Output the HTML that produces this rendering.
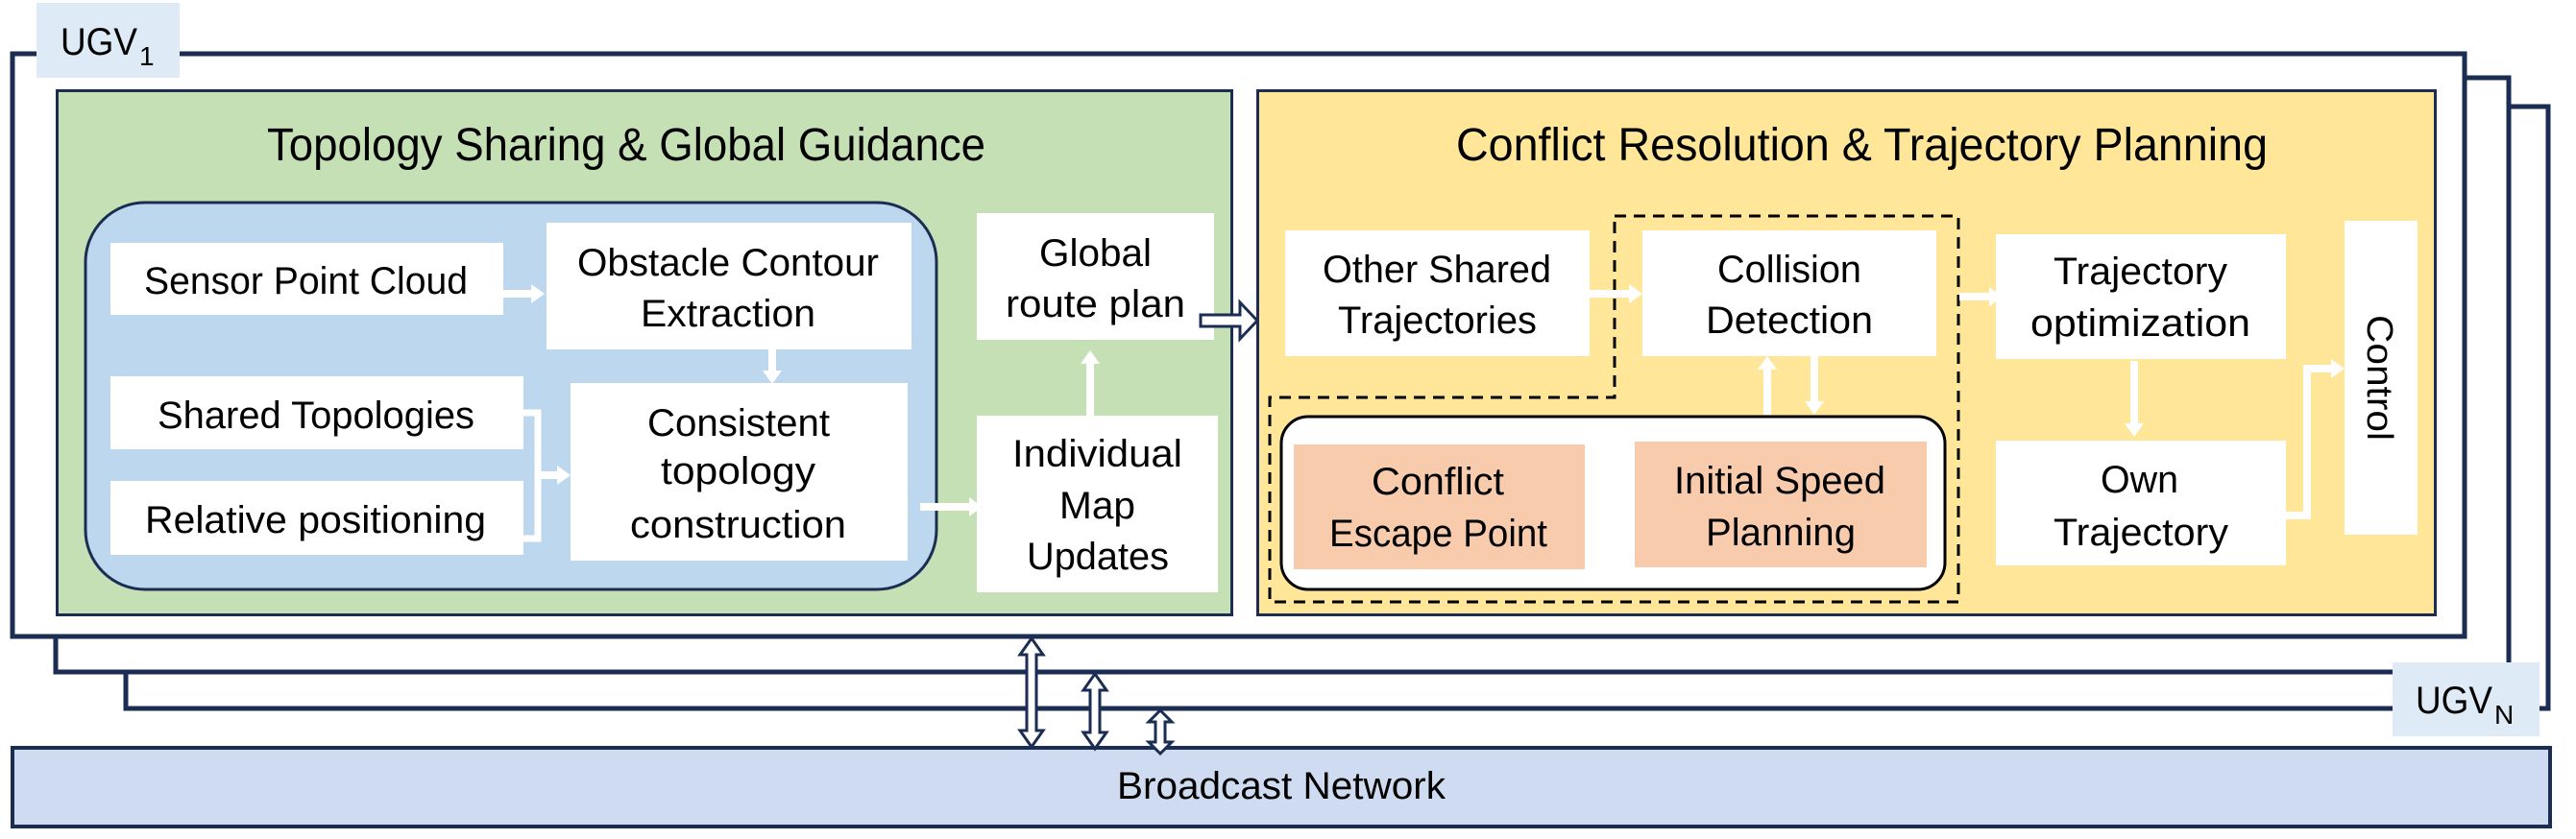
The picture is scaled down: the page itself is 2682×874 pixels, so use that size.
<!DOCTYPE html>
<html><head><meta charset="utf-8"><style>
html,body{margin:0;padding:0;background:#fff;}
svg{display:block;}
text{font-family:"Liberation Sans",sans-serif;fill:#000;}
.b{font-size:40px;}
.t{font-size:48px;}
</style></head><body>
<svg width="2682" height="874" viewBox="0 0 2682 874" xmlns="http://www.w3.org/2000/svg">
<g stroke="#1b2d52" stroke-width="5" fill="#fff">
<rect x="131" y="111" width="2522" height="627"/>
<rect x="58" y="81" width="2554" height="619"/>
<rect x="13" y="56" width="2553" height="607"/>
</g>
<rect x="38" y="3" width="149" height="78" fill="#deeaf6"/>
<text x="63" y="57" style="font-size:40px" textLength="80" lengthAdjust="spacingAndGlyphs">UGV</text><text x="145" y="68" style="font-size:28px">1</text>
<rect x="2491" y="690" width="153" height="77" fill="#deeaf6"/>
<text x="2515" y="743" style="font-size:40px" textLength="80" lengthAdjust="spacingAndGlyphs">UGV</text><text x="2597" y="754" style="font-size:28px">N</text>

<!-- green -->
<rect x="59.5" y="94.5" width="1223" height="546" fill="#c5e0b4" stroke="#1b2d52" stroke-width="3"/>
<text class="t" x="278" y="167" textLength="748" lengthAdjust="spacingAndGlyphs">Topology Sharing &amp; Global Guidance</text>
<rect x="89" y="211" width="886" height="403" rx="62" fill="#bdd7ee" stroke="#1b2d52" stroke-width="3"/>
<g fill="#fff">
<rect x="115" y="253" width="409" height="75"/>
<rect x="569" y="232" width="380" height="132"/>
<rect x="115" y="392" width="430" height="76"/>
<rect x="115" y="501" width="430" height="77"/>
<rect x="594" y="399" width="351" height="185"/>
<rect x="1017" y="222" width="247" height="132"/>
<rect x="1017" y="433" width="251" height="184"/>
</g>
<text class="b" x="150" y="306" textLength="337" lengthAdjust="spacingAndGlyphs">Sensor Point Cloud</text>
<text class="b" x="601" y="287" textLength="314" lengthAdjust="spacingAndGlyphs">Obstacle Contour</text>
<text class="b" x="667" y="340" textLength="182" lengthAdjust="spacingAndGlyphs">Extraction</text>
<text class="b" x="164" y="446" textLength="330" lengthAdjust="spacingAndGlyphs">Shared Topologies</text>
<text class="b" x="151" y="555" textLength="355" lengthAdjust="spacingAndGlyphs">Relative positioning</text>
<text class="b" x="674" y="454" textLength="190" lengthAdjust="spacingAndGlyphs">Consistent</text>
<text class="b" x="688" y="504" textLength="161" lengthAdjust="spacingAndGlyphs">topology</text>
<text class="b" x="656" y="560" textLength="225" lengthAdjust="spacingAndGlyphs">construction</text>
<text class="b" x="1082" y="277" textLength="117" lengthAdjust="spacingAndGlyphs">Global</text>
<text class="b" x="1047" y="330" textLength="187" lengthAdjust="spacingAndGlyphs">route plan</text>
<text class="b" x="1054" y="486" textLength="177" lengthAdjust="spacingAndGlyphs">Individual</text>
<text class="b" x="1103" y="540" textLength="79" lengthAdjust="spacingAndGlyphs">Map</text>
<text class="b" x="1069" y="593" textLength="148" lengthAdjust="spacingAndGlyphs">Updates</text>

<!-- yellow -->
<rect x="1309.5" y="94.5" width="1226" height="546" fill="#ffe699" stroke="#1b2d52" stroke-width="3"/>
<text class="t" x="1516" y="167" textLength="845" lengthAdjust="spacingAndGlyphs">Conflict Resolution &amp; Trajectory Planning</text>
<rect x="1334" y="434" width="691" height="180" rx="28" fill="#fff" stroke="#000" stroke-width="3"/>
<path d="M1681,225 L2039,225 L2039,627 L1322,627 L1322,414 L1681,414 Z" fill="none" stroke="#000" stroke-width="3" stroke-dasharray="12 8"/>
<g fill="#fff">
<rect x="1338" y="240" width="317" height="131"/>
<rect x="1710" y="240" width="306" height="131"/>
<rect x="2078" y="244" width="302" height="130"/>
<rect x="2078" y="459" width="302" height="130"/>
<rect x="2441" y="230" width="76" height="327"/>
</g>
<g fill="#f8cbad">
<rect x="1347" y="463" width="303" height="130"/>
<rect x="1702" y="460" width="304" height="131"/>
</g>
<text class="b" x="1377" y="294" textLength="238" lengthAdjust="spacingAndGlyphs">Other Shared</text>
<text class="b" x="1393" y="347" textLength="207" lengthAdjust="spacingAndGlyphs">Trajectories</text>
<text class="b" x="1788" y="294" textLength="150" lengthAdjust="spacingAndGlyphs">Collision</text>
<text class="b" x="1776" y="347" textLength="174" lengthAdjust="spacingAndGlyphs">Detection</text>
<text class="b" x="2138" y="296" textLength="181" lengthAdjust="spacingAndGlyphs">Trajectory</text>
<text class="b" x="2114" y="350" textLength="229" lengthAdjust="spacingAndGlyphs">optimization</text>
<text class="b" x="2187" y="513" textLength="81" lengthAdjust="spacingAndGlyphs">Own</text>
<text class="b" x="2138" y="568" textLength="182" lengthAdjust="spacingAndGlyphs">Trajectory</text>
<text class="b" x="1428" y="515" textLength="138" lengthAdjust="spacingAndGlyphs">Conflict</text>
<text class="b" x="1384" y="569" textLength="227" lengthAdjust="spacingAndGlyphs">Escape Point</text>
<text class="b" x="1743" y="514" textLength="220" lengthAdjust="spacingAndGlyphs">Initial Speed</text>
<text class="b" x="1776" y="568" textLength="156" lengthAdjust="spacingAndGlyphs">Planning</text>
<text x="0" y="0" style="font-size:38px" transform="translate(2465,328) rotate(90)" textLength="131" lengthAdjust="spacingAndGlyphs">Control</text>

<!-- white arrows -->
<g fill="#fff">
<polygon points="524,302 553,302 553,296 567,306 553,316 553,310 524,310"/>
<polygon points="800,364 800,386 794,386 804,400 814,386 808,386 808,364"/>
<polygon points="560,491 580,491 580,485 594,495 580,505 580,499 560,499"/>
<polygon points="958,524 1009,524 1009,518 1023,528 1009,538 1009,532 958,532"/>
<polygon points="1131,433 1131,379 1125,379 1135,365 1145,379 1139,379 1139,433"/>
<polygon points="1655,302 1696,302 1696,296 1710,306 1696,316 1696,310 1655,310"/>
<polygon points="2040,305 2071,305 2071,299 2085,309 2071,319 2071,313 2040,313"/>
<polygon points="1836,432 1836,385 1830,385 1840,371 1850,385 1844,385 1844,432"/>
<polygon points="1885,371 1885,418 1879,418 1889,432 1899,418 1893,418 1893,371"/>
<polygon points="1652,524 1688,524 1688,518 1702,528 1688,538 1688,532 1652,532"/>
<polygon points="2218,376 2218,441 2212,441 2222,455 2232,441 2226,441 2226,376"/>
<polygon points="2398,380 2427,380 2427,374 2441,384 2427,394 2427,388 2406,388 2406,541 2380,541 2380,533 2398,533"/>
</g>
<polyline points="545,430 560,430 560,561 545,561" fill="none" stroke="#fff" stroke-width="7"/>
<!-- hollow right arrow -->
<polygon points="1250,328 1291,328 1291,315 1309,334 1291,353 1291,340 1250,340" fill="#fff" stroke="#1b2d52" stroke-width="3"/>

<!-- broadcast -->
<rect x="13" y="779" width="2642" height="82" fill="#cfdbf0" stroke="#1b2d52" stroke-width="4"/>
<text x="1163" y="832" style="font-size:40px" textLength="342" lengthAdjust="spacingAndGlyphs">Broadcast Network</text>

<g fill="#fff" stroke="#1b2d52" stroke-width="3">
<polygon points="1074,665 1086,682 1079,682 1079,761 1086,761 1074,778 1062,761 1069,761 1069,682 1062,682"/>
<polygon points="1140,702 1152,719 1145,719 1145,763 1152,763 1140,780 1128,763 1135,763 1135,719 1128,719"/>
<polygon points="1208,740 1220,752 1213,752 1213,773 1220,773 1208,785 1196,773 1203,773 1203,752 1196,752"/>
</g>
</svg>
</body></html>
